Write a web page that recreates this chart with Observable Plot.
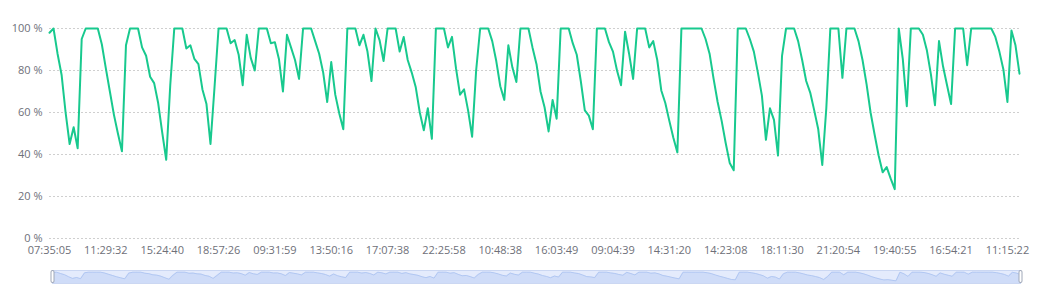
<!DOCTYPE html>
<html><head><meta charset="utf-8">
<script src="https://cdn.jsdelivr.net/npm/d3@7"></script>
<script src="https://cdn.jsdelivr.net/npm/@observablehq/plot@0.6"></script>
<style>
html,body{margin:0;padding:0;background:#fff;}
#chart svg{display:block;}
</style></head><body><div id="chart"></div>
<script>
// Usage (%) per sample, in order
const values = [
98,100,88,78,60,45,53,43,95,100,100,100,100,92.5,81,70,59,50,41.5,92,
100,100,100,91,87,77,74,64.5,50.5,37.5,73,100,100,100,90.5,92,85.5,83,71,64,
45,72,100,100,100,93,94.5,87.5,73,97,86,80,100,100,100,93,93.5,85.5,70,97,
91,85,76,100,100,100,94,88,79,65,84,68.5,59.5,52,100,100,100,92,97,89,
75,100,94.5,84.5,100,100,100,89,96,85,79,72,60,51.5,62,47.5,100,100,100,91,
96,81,68.5,71,61,48.5,80,100,100,100,94,84.5,72.5,66,92,81.5,74.5,100,100,100,
91,83,70,62.5,51,66,57,100,100,100,93,87.5,75,61,58.5,52,100,100,100,93.5,
89,80,73,98.5,88,76,100,100,100,91,94,85,70.5,64.5,56,48,41,100,100,100,
100,100,100,95,88,76,65,56,45.5,36,32.5,100,100,100,95,89,79,68,47,62,
56.5,39.5,87,100,100,100,94,85,75,69.5,61,52,35,62,100,100,100,76.5,100,100,
100,94,85,73.5,60,49.5,39.5,31.5,34,28.5,23.5,100,85.5,63,100,100,100,97,89.5,78,
63.5,94,82,73,64,100,100,100,82.5,100,100,100,100,100,100,96,89,80.5,65,99,
92,78.5
];
// Category labels shown on the x axis (one every labelStep samples)
const tickLabels = ["07:35:05","11:29:32","15:24:40","18:57:26","09:31:59","13:50:16","17:07:38","22:25:58","10:48:38","16:03:49","09:04:39","14:31:20","14:23:08","18:11:30","21:20:54","19:40:55","16:54:21","11:15:22"];
const labelStep = 14;
const yTicks = [0,20,40,60,80,100];

const data = values.map((v, i) => ({i, v}));
const tickIdx = tickLabels.map((_, k) => k * labelStep);
const font = "'Open Sans', sans-serif";

const main = Plot.plot({
  width: 1050, height: 266,
  marginLeft: 49, marginRight: 31, marginTop: 28, marginBottom: 28,
  style: {fontFamily: font, fontSize: "11px", color: "#6E7079", background: "#fff"},
  x: {domain: [0, values.length - 1], ticks: tickIdx, tickFormat: d => tickLabels[Math.round(d / labelStep)], tickSize: 0, tickPadding: 7.5, label: null},
  y: {domain: [0, 100], ticks: yTicks, tickFormat: d => `${d} %`, tickSize: 0, tickPadding: 7, label: null},
  marks: [
    Plot.gridY(yTicks, {stroke: "#cfcfcf", strokeOpacity: 1, strokeDasharray: "2,2"}),
    Plot.lineY(data, {x: "i", y: "v", stroke: "#18c98e", strokeWidth: 2})
  ]
});

const slider = Plot.plot({
  width: 1050, height: 18,
  marginLeft: 52, marginRight: 30, marginTop: 4, marginBottom: 1,
  style: {background: "transparent"},
  x: {domain: [0, values.length - 1], axis: null},
  y: {domain: [0, 100], range: [17, 5.7], axis: null},
  marks: [
    Plot.frame({fill: "#e4ebfc", stroke: "#cbd7f2"}),
    Plot.areaY(data, {x: "i", y: "v", fill: "#cfdcf8"}),
    Plot.lineY(data, {x: "i", y: "v", stroke: "#a9c1f0", strokeWidth: 0.8}),
    Plot.tickX([0, values.length - 1], {stroke: "#a0a8b8", strokeWidth: 4, strokeLinecap: "round", insetTop: 2, insetBottom: 2}),
    Plot.tickX([0, values.length - 1], {stroke: "#fff", strokeWidth: 2, strokeLinecap: "round", insetTop: 2, insetBottom: 2})
  ]
});

const root = document.getElementById("chart");
root.appendChild(main);
root.appendChild(slider);
</script></body></html>
